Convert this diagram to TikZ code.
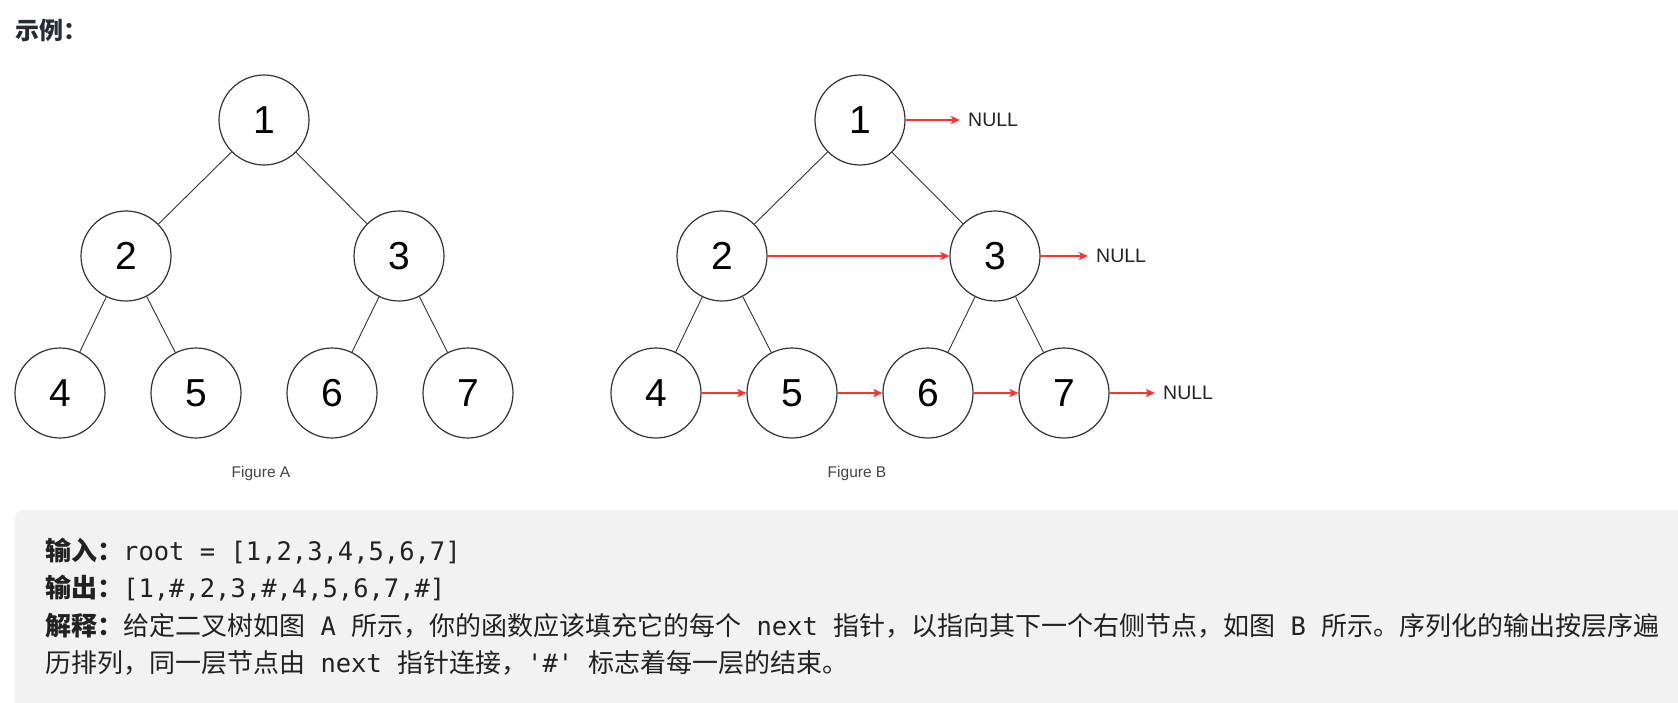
\documentclass[tikz,border=0pt]{standalone}
\usepackage{fontspec}
\usetikzlibrary{arrows.meta}
\newfontfamily\arialf{Liberation Sans}
\newfontfamily\cjkf{Noto Sans CJK SC}
\newfontfamily\monof[Scale=0.98]{DejaVu Sans Mono}
\definecolor{boxgray}{HTML}{F2F2F2}
\definecolor{ink}{HTML}{222222}
\definecolor{nodeink}{HTML}{333333}
\definecolor{nullred}{HTML}{FF3333}
\definecolor{headink}{HTML}{262B36}
\newcommand{\mm}[1]{{\monof #1}}
\newcommand{\cj}[1]{{\cjkf #1}}
\newcommand{\cjb}[1]{{\cjkf\bfseries #1}}
\begin{document}
\begin{tikzpicture}[x=1pt,y=-1pt,
  tnode/.style={circle, draw=nodeink, line width=1.2pt, minimum size=90pt, inner sep=0pt, text=black, font=\arialf\fontsize{39}{39}\selectfont},
  edge/.style={draw=nodeink, line width=0.9pt},
  nxt/.style={draw=nullred, line width=1.4pt, -{Stealth[length=9pt,width=8pt,inset=2pt]}},
  nulltxt/.style={anchor=west, inner sep=0pt, font=\arialf\fontsize{19.5}{20}\selectfont, text=ink},
  figlab/.style={inner sep=0pt, font=\arialf\fontsize{15.5}{16}\selectfont, text=ink!85},
  bodyline/.style={anchor=base west, inner sep=0pt, text=ink, font=\fontsize{26}{30}\selectfont}]
\useasboundingbox (0,0) rectangle (1678,702);
\fill[white] (0,0) rectangle (1678,702);
\fill[boxgray, rounded corners=8pt] (15,510) rectangle (1710,730);

\node[anchor=west, inner sep=0pt, text=headink, font=\cjkf\bfseries\fontsize{24}{26}\selectfont] (head) at (15,30) {示例：};

% Figure A
\node[tnode] (a1) at (264,120) {1};
\node[tnode] (a2) at (126,256) {2};
\node[tnode] (a3) at (399,256) {3};
\node[tnode] (a4) at (60,393) {4};
\node[tnode] (a5) at (196,393) {5};
\node[tnode] (a6) at (332,393) {6};
\node[tnode] (a7) at (468,393) {7};
\draw[edge] (a1) -- (a2);
\draw[edge] (a1) -- (a3);
\draw[edge] (a2) -- (a4);
\draw[edge] (a2) -- (a5);
\draw[edge] (a3) -- (a6);
\draw[edge] (a3) -- (a7);
\node[figlab] (figa) at (261,473) {Figure A};

% Figure B
\node[tnode] (b1) at (860,120) {1};
\node[tnode] (b2) at (722,256) {2};
\node[tnode] (b3) at (995,256) {3};
\node[tnode] (b4) at (656,393) {4};
\node[tnode] (b5) at (792,393) {5};
\node[tnode] (b6) at (928,393) {6};
\node[tnode] (b7) at (1064,393) {7};
\draw[edge] (b1) -- (b2);
\draw[edge] (b1) -- (b3);
\draw[edge] (b2) -- (b4);
\draw[edge] (b2) -- (b5);
\draw[edge] (b3) -- (b6);
\draw[edge] (b3) -- (b7);
\node[nulltxt] (n1) at (968,120) {NULL};
\node[nulltxt] (n3) at (1096,256) {NULL};
\node[nulltxt] (n7) at (1163,393) {NULL};
\draw[nxt, shorten >=8pt] (b1) -- (n1);
\draw[nxt] (b2) -- (b3);
\draw[nxt, shorten >=8pt] (b3) -- (n3);
\draw[nxt] (b4) -- (b5);
\draw[nxt] (b5) -- (b6);
\draw[nxt] (b6) -- (b7);
\draw[nxt, shorten >=8pt] (b7) -- (n7);
\node[figlab] (figb) at (857,473) {Figure B};

% text box
\node[bodyline] (l1) at (45,560) {\cjb{输入：}\mm{root = [1,2,3,4,5,6,7]}};
\node[bodyline] (l2) at (45,597.5) {\cjb{输出：}\mm{[1,\#,2,3,\#,4,5,6,7,\#]}};
\node[bodyline] (l3) at (45,635) {\cjb{解释：}\cj{给定二叉树如图}\mm{~A~}\cj{所示，你的函数应该填充它的每个}\mm{~next~}\cj{指针，以指向其下一个右侧节点，如图}\mm{~B~}\cj{所示。序列化的输出按层序遍}};
\node[bodyline] (l4) at (45,672.5) {\cj{历排列，同一层节点由}\mm{~next~}\cj{指针连接，}\mm{\textquotesingle\#\textquotesingle~}\cj{标志着每一层的结束。}};
\end{tikzpicture}
\end{document}
